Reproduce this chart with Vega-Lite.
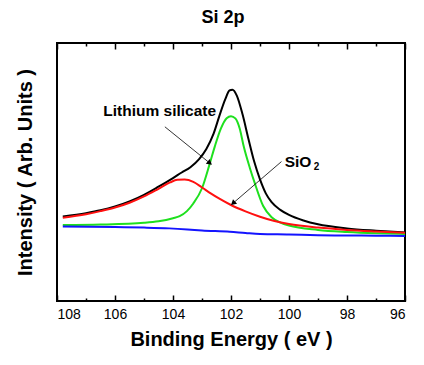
{
  "$schema": "https://vega.github.io/schema/vega-lite/v6.json",
  "width": 348,
  "height": 258,
  "autosize": "none",
  "padding": {"left": 57, "top": 43, "right": 19, "bottom": 64},
  "title": {"text": "Si 2p", "fontSize": 18, "fontWeight": "bold", "font": "Liberation Sans", "color": "black", "offset": 15, "dx": -8},
  "config": {
    "view": {"stroke": "black", "strokeWidth": 2},
    "font": "Liberation Sans",
    "axis": {"grid": false, "domain": false, "tickColor": "black", "tickWidth": 1.5, "labelColor": "black", "titleColor": "black", "labelFont": "Liberation Sans", "titleFont": "Liberation Sans"}
  },
  "datasets": {
    "curves": [
      {"S": "Total", "E": 107.8, "I": 32.9}, {"S": "Total", "E": 107.0, "I": 34.2}, {"S": "Total", "E": 106.5, "I": 35.3},
      {"S": "Total", "E": 106.0, "I": 36.8}, {"S": "Total", "E": 105.5, "I": 38.8}, {"S": "Total", "E": 105.0, "I": 41.4},
      {"S": "Total", "E": 104.5, "I": 44.6}, {"S": "Total", "E": 104.0, "I": 48.0}, {"S": "Total", "E": 103.7, "I": 50.2},
      {"S": "Total", "E": 103.4, "I": 52.3}, {"S": "Total", "E": 103.1, "I": 55.5}, {"S": "Total", "E": 102.85, "I": 59.5},
      {"S": "Total", "E": 102.6, "I": 65.5}, {"S": "Total", "E": 102.4, "I": 72.5}, {"S": "Total", "E": 102.2, "I": 79.0},
      {"S": "Total", "E": 102.05, "I": 82.5}, {"S": "Total", "E": 101.95, "I": 82.8}, {"S": "Total", "E": 101.8, "I": 80.5},
      {"S": "Total", "E": 101.6, "I": 73.0}, {"S": "Total", "E": 101.4, "I": 63.5}, {"S": "Total", "E": 101.2, "I": 54.5},
      {"S": "Total", "E": 101.0, "I": 47.5}, {"S": "Total", "E": 100.8, "I": 42.0}, {"S": "Total", "E": 100.6, "I": 38.5},
      {"S": "Total", "E": 100.3, "I": 35.5}, {"S": "Total", "E": 100.0, "I": 33.5}, {"S": "Total", "E": 99.5, "I": 31.3},
      {"S": "Total", "E": 99.0, "I": 29.8}, {"S": "Total", "E": 98.0, "I": 28.2}, {"S": "Total", "E": 97.0, "I": 27.3},
      {"S": "Total", "E": 96.0, "I": 26.6},

      {"S": "Lithium silicate", "E": 107.8, "I": 29.5}, {"S": "Lithium silicate", "E": 106.5, "I": 29.7}, {"S": "Lithium silicate", "E": 105.0, "I": 30.4},
      {"S": "Lithium silicate", "E": 104.5, "I": 31.0}, {"S": "Lithium silicate", "E": 104.0, "I": 32.2}, {"S": "Lithium silicate", "E": 103.77, "I": 33.0},
      {"S": "Lithium silicate", "E": 103.52, "I": 35.0}, {"S": "Lithium silicate", "E": 103.3, "I": 38.0}, {"S": "Lithium silicate", "E": 103.0, "I": 44.0},
      {"S": "Lithium silicate", "E": 102.73, "I": 53.8}, {"S": "Lithium silicate", "E": 102.56, "I": 60.4}, {"S": "Lithium silicate", "E": 102.35, "I": 67.5},
      {"S": "Lithium silicate", "E": 102.15, "I": 71.6}, {"S": "Lithium silicate", "E": 102.0, "I": 72.4}, {"S": "Lithium silicate", "E": 101.85, "I": 71.5},
      {"S": "Lithium silicate", "E": 101.7, "I": 67.5}, {"S": "Lithium silicate", "E": 101.56, "I": 60.4}, {"S": "Lithium silicate", "E": 101.35, "I": 52.0},
      {"S": "Lithium silicate", "E": 101.18, "I": 46.0}, {"S": "Lithium silicate", "E": 100.89, "I": 37.0}, {"S": "Lithium silicate", "E": 100.6, "I": 32.6},
      {"S": "Lithium silicate", "E": 100.31, "I": 30.6}, {"S": "Lithium silicate", "E": 100.0, "I": 29.3}, {"S": "Lithium silicate", "E": 99.0, "I": 27.6},
      {"S": "Lithium silicate", "E": 98.0, "I": 26.8}, {"S": "Lithium silicate", "E": 97.0, "I": 26.3}, {"S": "Lithium silicate", "E": 96.0, "I": 26.0},

      {"S": "SiO2", "E": 107.8, "I": 32.4}, {"S": "SiO2", "E": 107.0, "I": 33.8}, {"S": "SiO2", "E": 106.5, "I": 35.0},
      {"S": "SiO2", "E": 106.0, "I": 36.4}, {"S": "SiO2", "E": 105.5, "I": 38.3}, {"S": "SiO2", "E": 105.0, "I": 40.8},
      {"S": "SiO2", "E": 104.5, "I": 43.8}, {"S": "SiO2", "E": 104.1, "I": 46.3}, {"S": "SiO2", "E": 103.85, "I": 47.3},
      {"S": "SiO2", "E": 103.6, "I": 47.4}, {"S": "SiO2", "E": 103.3, "I": 46.5}, {"S": "SiO2", "E": 103.0, "I": 44.3},
      {"S": "SiO2", "E": 102.7, "I": 42.0}, {"S": "SiO2", "E": 102.4, "I": 39.9}, {"S": "SiO2", "E": 102.0, "I": 37.4},
      {"S": "SiO2", "E": 101.5, "I": 34.9}, {"S": "SiO2", "E": 101.0, "I": 32.8}, {"S": "SiO2", "E": 100.5, "I": 31.1},
      {"S": "SiO2", "E": 100.0, "I": 29.9}, {"S": "SiO2", "E": 99.0, "I": 28.5}, {"S": "SiO2", "E": 98.0, "I": 27.6},
      {"S": "SiO2", "E": 97.0, "I": 27.0}, {"S": "SiO2", "E": 96.0, "I": 26.5},

      {"S": "Background", "E": 107.8, "I": 28.9}, {"S": "Background", "E": 106.0, "I": 28.7}, {"S": "Background", "E": 105.0, "I": 28.5},
      {"S": "Background", "E": 104.13, "I": 28.2}, {"S": "Background", "E": 103.5, "I": 27.8}, {"S": "Background", "E": 103.0, "I": 27.4},
      {"S": "Background", "E": 102.04, "I": 26.9}, {"S": "Background", "E": 101.5, "I": 26.4}, {"S": "Background", "E": 101.0, "I": 26.0},
      {"S": "Background", "E": 100.0, "I": 25.8}, {"S": "Background", "E": 99.0, "I": 25.5}, {"S": "Background", "E": 98.0, "I": 25.4},
      {"S": "Background", "E": 97.0, "I": 25.3}, {"S": "Background", "E": 96.0, "I": 25.2}
    ],
    "arrows": [
      {"name": "Lithium silicate", "E1": 104.28, "I1": 68.2, "E2": 102.73, "I2": 53.9},
      {"name": "SiO2", "E1": 100.26, "I1": 54.5, "E2": 101.93, "I2": 38.1}
    ],
    "labels": [
      {"label": "Lithium silicate", "E": 104.46, "I": 74.4},
      {"label": "SiO", "E": 99.69, "I": 54.3}
    ],
    "subs": [
      {"label": "2", "E": 99.15, "I": 54.3}
    ]
  },
  "layer": [
    {
      "data": {"name": "curves"},
      "mark": {"type": "line", "strokeWidth": 2, "interpolate": "monotone"},
      "encoding": {
        "x": {"field": "E", "type": "quantitative", "scale": {"domain": [108, 96], "nice": false, "zero": false},
          "axis": {"orient": "bottom", "offset": -6, "values": [108, 106, 104, 102, 100, 98, 96], "tickSize": 6, "labelFontSize": 14, "labelPadding": 6,
            "title": "Binding Energy ( eV )", "titleFontSize": 20, "titleFontWeight": "bold", "titlePadding": 8}},
        "y": {"field": "I", "type": "quantitative", "scale": {"domain": [-0.4, 101.2], "nice": false, "zero": false},
          "axis": {"title": "Intensity ( Arb. Units )", "labels": false, "ticks": false, "titleFontSize": 20, "titleFontWeight": "bold", "titlePadding": 22}},
        "color": {"field": "S", "type": "nominal", "scale": {"domain": ["Background", "Lithium silicate", "SiO2", "Total"], "range": ["#1414ff", "#1ee01e", "#ff1010", "#000000"]}, "legend": null},
        "order": {"field": "E", "type": "quantitative"}
      }
    },
    {
      "data": {"name": "arrows"},
      "mark": {"type": "rule", "color": "black", "strokeWidth": 0.8},
      "encoding": {
        "x": {"field": "E1", "type": "quantitative", "axis": {"orient": "bottom", "offset": -3, "values": [107, 105, 103, 101, 99, 97], "labels": false, "tickSize": 3, "title": null}},
        "y": {"field": "I1", "type": "quantitative", "axis": null},
        "x2": {"field": "E2"},
        "y2": {"field": "I2"}
      }
    },
    {
      "data": {"name": "arrows"},
      "transform": [{"filter": "datum.name == 'Lithium silicate'"}],
      "mark": {"type": "point", "shape": "triangle-up", "filled": true, "color": "black", "size": 38, "angle": 129, "opacity": 1},
      "encoding": {
        "x": {"field": "E2", "type": "quantitative", "axis": {"orient": "top", "offset": -6, "values": [108, 106, 104, 102, 100, 98, 96], "labels": false, "tickSize": 6, "title": null}},
        "y": {"field": "I2", "type": "quantitative", "axis": null}
      }
    },
    {
      "data": {"name": "arrows"},
      "transform": [{"filter": "datum.name == 'SiO2'"}],
      "mark": {"type": "point", "shape": "triangle-up", "filled": true, "color": "black", "size": 38, "angle": 229, "opacity": 1},
      "encoding": {
        "x": {"field": "E2", "type": "quantitative", "axis": {"orient": "top", "offset": -3, "values": [107, 105, 103, 101, 99, 97], "labels": false, "tickSize": 3, "title": null}},
        "y": {"field": "I2", "type": "quantitative", "axis": null}
      }
    },
    {
      "data": {"name": "labels"},
      "mark": {"type": "text", "fontSize": 15.5, "fontWeight": "bold", "font": "Liberation Sans", "color": "black", "align": "center", "baseline": "middle"},
      "encoding": {
        "x": {"field": "E", "type": "quantitative", "axis": null},
        "y": {"field": "I", "type": "quantitative", "axis": null},
        "text": {"field": "label"}
      }
    },
    {
      "data": {"name": "subs"},
      "mark": {"type": "text", "fontSize": 10, "fontWeight": "bold", "font": "Liberation Sans", "color": "black", "align": "left", "baseline": "middle", "dy": 5},
      "encoding": {
        "x": {"field": "E", "type": "quantitative", "axis": null},
        "y": {"field": "I", "type": "quantitative", "axis": null},
        "text": {"field": "label"}
      }
    }
  ],
  "resolve": {"axis": {"x": "independent", "y": "independent"}}
}
